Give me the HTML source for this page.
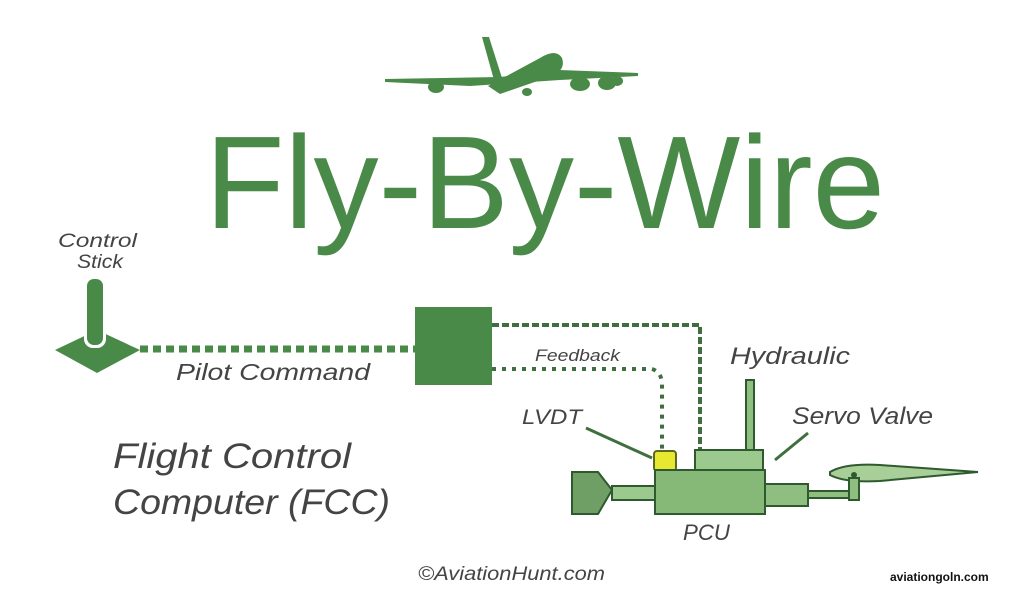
<!DOCTYPE html>
<html><head><meta charset="utf-8"><style>
html,body{margin:0;padding:0;background:#fff;}
svg{display:block;}
</style></head><body>
<svg width="1024" height="597" viewBox="0 0 1024 597" xmlns="http://www.w3.org/2000/svg">
<rect width="1024" height="597" fill="#fff"/>
<g fill="#4a8a48">
<polygon points="385,79 500,77 560,70 638,73 638,76 560,80 470,86 385,82"/>
<polygon points="482,37 489,37 502,78 494,80"/>
<path d="M488,86 L540,58 Q556,48 562,58 Q566,70 552,76 L500,94 Z"/>
<ellipse cx="436" cy="87" rx="8" ry="6"/>
<ellipse cx="580" cy="84" rx="10" ry="7"/>
<ellipse cx="607" cy="83" rx="9" ry="7"/>
<ellipse cx="617" cy="81" rx="6" ry="5"/>
<ellipse cx="527" cy="92" rx="5" ry="4"/>
</g>
<text x="205" y="228" font-family="Liberation Sans, sans-serif" font-size="132" fill="#4a8a48" textLength="680" lengthAdjust="spacingAndGlyphs">Fly-By-Wire</text>
<g font-family="Liberation Sans, sans-serif" font-style="italic" fill="#444" lengthAdjust="spacingAndGlyphs">
<text x="58" y="247" font-size="19" textLength="79" lengthAdjust="spacingAndGlyphs">Control</text>
<text x="77" y="268" font-size="19" textLength="46" lengthAdjust="spacingAndGlyphs">Stick</text>
<text x="176" y="380" font-size="23" textLength="194" lengthAdjust="spacingAndGlyphs">Pilot Command</text>
<text x="535" y="361" font-size="17" textLength="85" lengthAdjust="spacingAndGlyphs">Feedback</text>
<text x="730" y="364" font-size="24" textLength="120" lengthAdjust="spacingAndGlyphs">Hydraulic</text>
<text x="792" y="424" font-size="24" textLength="141" lengthAdjust="spacingAndGlyphs">Servo Valve</text>
<text x="522" y="424" font-size="21" textLength="60" lengthAdjust="spacingAndGlyphs">LVDT</text>
<text x="683" y="540" font-size="22" textLength="47" lengthAdjust="spacingAndGlyphs">PCU</text>
<text x="113" y="468" font-size="35" textLength="238" lengthAdjust="spacingAndGlyphs">Flight Control</text>
<text x="113" y="514" font-size="35" textLength="277" lengthAdjust="spacingAndGlyphs">Computer (FCC)</text>
<text x="418" y="580" font-size="19" textLength="187" lengthAdjust="spacingAndGlyphs">©AviationHunt.com</text>
</g>
<text x="890" y="581" font-family="Liberation Sans, sans-serif" font-weight="bold" font-size="12" fill="#111">aviationgoln.com</text>
<polygon points="55,350 97,330 140,350 97,373" fill="#4a8a48"/>
<rect x="84" y="280" width="22" height="68" rx="9" fill="#fff"/>
<rect x="87" y="279" width="16" height="66" rx="7" fill="#4a8a48"/>
<line x1="140" y1="349" x2="415" y2="349" stroke="#4a8a48" stroke-width="7" stroke-dasharray="8,5"/>
<rect x="415" y="307" width="77" height="78" fill="#4a8a48"/>
<polyline points="492,325 700,325 700,450" fill="none" stroke="#3f6f3f" stroke-width="4" stroke-dasharray="7,3"/>
<path d="M492,369 L652,369 Q662,372 662,385 L662,450" fill="none" stroke="#3f6f3f" stroke-width="4" stroke-dasharray="4,6"/>
<line x1="586" y1="428" x2="652" y2="458" stroke="#3f6f3f" stroke-width="3"/>
<line x1="808" y1="433" x2="775" y2="460" stroke="#3f6f3f" stroke-width="3"/>
<g stroke="#2f5a2f" stroke-width="2">
<rect x="746" y="380" width="8" height="72" fill="#8fbf80"/>
<rect x="695" y="450" width="68" height="21" fill="#9cc98e"/>
<rect x="654" y="451" width="22" height="20" rx="3" fill="#e8e830" stroke="#5a6a20"/>
<polygon points="572,472 598,472 612,490 598,514 572,514" fill="#6f9f64"/>
<rect x="612" y="486" width="44" height="14" fill="#9cc98e"/>
<rect x="655" y="470" width="110" height="44" fill="#86b878"/>
<rect x="765" y="484" width="43" height="22" fill="#8fbf80"/>
<rect x="808" y="491" width="42" height="7" fill="#8fbf80"/>
<path d="M830,472 Q845,463 880,465 L978,472 L880,481 Q845,483 830,475 Z" fill="#a8cf98"/>
<rect x="849" y="478" width="10" height="22" fill="#8fbf80"/>
</g>
<circle cx="854" cy="475" r="3" fill="#2f5a2f"/>
</svg>
</body></html>
